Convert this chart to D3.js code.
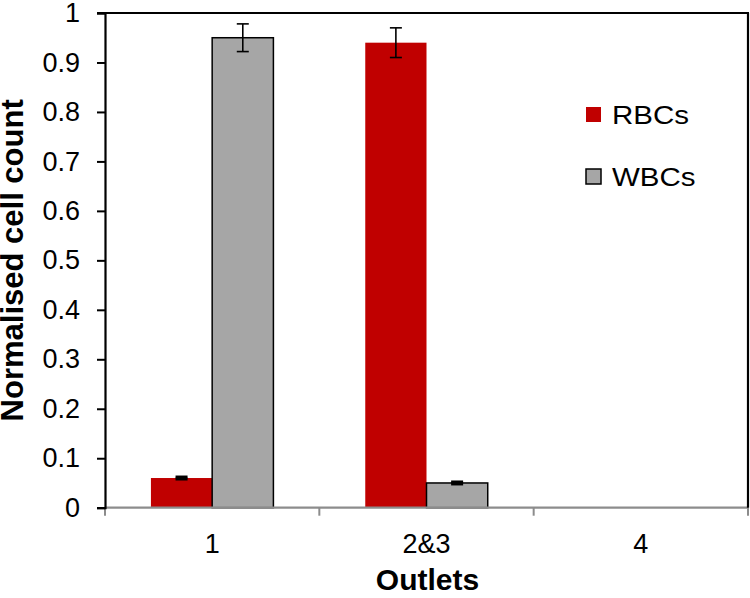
<!DOCTYPE html>
<html>
<head>
<meta charset="utf-8">
<script src="https://cdn.jsdelivr.net/npm/d3@7/dist/d3.min.js"></script>
<style>
  body { margin: 0; background: #fff; }
  svg { display: block; font-family: "Liberation Sans", Arial, sans-serif; }
</style>
</head>
<body>
<svg id="chart" width="750" height="598"></svg>
<script>
// values
var outlets = ["1", "2&3", "4"];
var series = ["RBCs", "WBCs"];
var rbcMeans = [0.06, 0.94, 0];
var rbcErrors = [0.002, 0.03, 0];
var wbcMeans = [0.95, 0.05, 0];
var wbcErrors = [0.028, 0.002, 0];
var yTicks = [0, 0.1, 0.2, 0.3, 0.4, 0.5, 0.6, 0.7, 0.8, 0.9, 1];

var colors = { "RBCs": "#c00000", "WBCs": "#a6a6a6" };

var svg = d3.select('#chart');
// note: "top" is taken by window.top, so use plot* names
var plotLeft = 105, plotRight = 748, plotTop = 13, plotBottom = 507.7;

var x = d3.scaleBand().domain(outlets).range([plotLeft, plotRight]);
// two bars per group, gap of 150% like Excel
var x1 = d3.scaleBand().domain(series).range([0, x.bandwidth()])
    .paddingInner(0).paddingOuter(0.75);
var y = d3.scaleLinear().domain([0, 1]).range([plotBottom, plotTop]);

var rows = [];
outlets.forEach(function(o, i) {
    rows.push({ outlet: o, series: "RBCs", value: rbcMeans[i], err: rbcErrors[i] });
    rows.push({ outlet: o, series: "WBCs", value: wbcMeans[i], err: wbcErrors[i] });
});
var shown = rows.filter(function(d) { return d.value > 0; });

// bars
svg.append('g').selectAll('rect')
    .data(shown)
    .enter().append('rect')
    .attr('x', function(d) { return x(d.outlet) + x1(d.series); })
    .attr('y', function(d) { return y(d.value); })
    .attr('width', x1.bandwidth())
    .attr('height', function(d) { return plotBottom - y(d.value); })
    .attr('fill', function(d) { return colors[d.series]; })
    .attr('stroke', function(d) { return d.series == "WBCs" ? '#000' : 'none'; })
    .attr('stroke-width', 1.5);

// error bars
var eb = svg.append('g').selectAll('g')
    .data(shown)
    .enter().append('g')
    .attr('stroke', '#000')
    .attr('stroke-width', 1.6);
function cx(d) { return x(d.outlet) + x1(d.series) + x1.bandwidth() / 2; }
eb.append('line')
    .attr('x1', cx).attr('x2', cx)
    .attr('y1', function(d) { return y(d.value + d.err); })
    .attr('y2', function(d) { return y(d.value - d.err); });
[1, -1].forEach(function(s) {
    eb.append('line')
        .attr('x1', function(d) { return cx(d) - 6; })
        .attr('x2', function(d) { return cx(d) + 6; })
        .attr('y1', function(d) { return y(d.value + s * d.err); })
        .attr('y2', function(d) { return y(d.value + s * d.err); })
        .attr('stroke-width', function(d) { return d.err < 0.01 ? 3 : 1.6; });
});

// x axis (grey) with ticks between groups
svg.append('line')
    .attr('x1', plotLeft).attr('x2', plotRight)
    .attr('y1', plotBottom).attr('y2', plotBottom)
    .attr('stroke', '#8c8c8c').attr('stroke-width', 2.2);
var bounds = outlets.map(function(o) { return x(o); }).concat([plotRight]);
svg.append('g').selectAll('line')
    .data(bounds).enter().append('line')
    .attr('x1', function(d) { return d; }).attr('x2', function(d) { return d; })
    .attr('y1', plotBottom).attr('y2', plotBottom + 8)
    .attr('stroke', '#8c8c8c').attr('stroke-width', 2);
svg.append('g').selectAll('text')
    .data(outlets).enter().append('text')
    .attr('x', function(d) { return x(d) + x.bandwidth() / 2; })
    .attr('y', 553)
    .attr('text-anchor', 'middle')
    .attr('font-size', 27)
    .text(function(d) { return d; });

// frame: top and right black
svg.append('line')
    .attr('x1', plotLeft - 8).attr('x2', plotRight + 1)
    .attr('y1', plotTop).attr('y2', plotTop)
    .attr('stroke', '#000').attr('stroke-width', 2.2);
svg.append('line')
    .attr('x1', plotRight).attr('x2', plotRight)
    .attr('y1', plotTop).attr('y2', plotBottom)
    .attr('stroke', '#000').attr('stroke-width', 2.2);

// y axis
var yAxis = svg.append('g')
    .attr('transform', 'translate(' + plotLeft + ',0)')
    .call(d3.axisLeft(y).tickValues(yTicks).tickSize(8).tickPadding(17)
        .tickFormat(function(d) { return String(+d.toFixed(1)); }));
yAxis.select('.domain').attr('stroke', '#000').attr('stroke-width', 2.2);
yAxis.selectAll('.tick line').attr('stroke', '#000').attr('stroke-width', 2);
yAxis.selectAll('.tick text')
    .attr('font-size', 27)
    .attr('fill', '#000')
    .attr('font-family', '"Liberation Sans", Arial, sans-serif');

// axis titles
svg.append('text')
    .attr('transform', 'translate(23,' + ((plotTop + plotBottom) / 2) + ') rotate(-90)')
    .attr('text-anchor', 'middle')
    .attr('font-size', 31)
    .attr('font-weight', 'bold')
    .text('Normalised cell count');
svg.append('text')
    .attr('x', (plotLeft + plotRight) / 2 + 1)
    .attr('y', 590)
    .attr('text-anchor', 'middle')
    .attr('font-size', 30)
    .attr('font-weight', 'bold')
    .text('Outlets');

// legend
var leg = svg.append('g').selectAll('g')
    .data(series).enter().append('g')
    .attr('transform', function(d, i) { return 'translate(586,' + (107 + i * 62) + ')'; });
leg.append('rect')
    .attr('width', 15).attr('height', 15)
    .attr('fill', function(d) { return colors[d]; })
    .attr('stroke', function(d) { return d == "WBCs" ? '#000' : 'none'; })
    .attr('stroke-width', 1.5);
leg.append('text')
    .attr('transform', 'translate(26,17) scale(1.18,1)')
    .attr('font-size', 25)
    .text(function(d) { return d; });
</script>
</body>
</html>
